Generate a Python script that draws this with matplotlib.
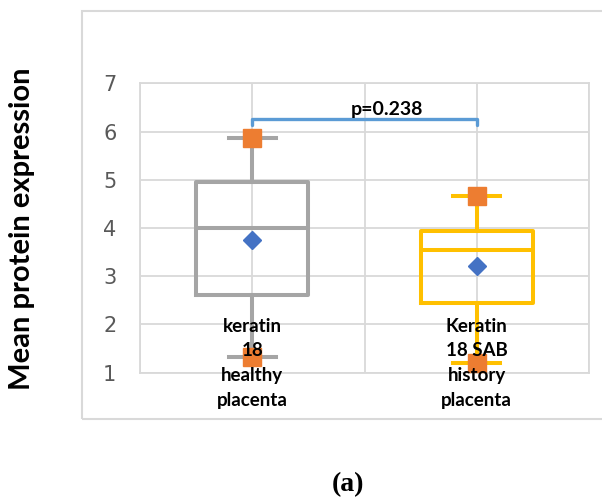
import matplotlib
matplotlib.use("Agg")
import matplotlib.pyplot as plt
from matplotlib.patches import Rectangle

# summary values for each group
groups = ["keratin\n18\nhealthy\nplacenta", "Keratin\n18 SAB\nhistory\nplacenta"]
positions = [1, 3]
maxima = [5.86, 4.66]
q3 = [4.96, 3.94]
medians = [4.0, 3.54]
means = [3.76, 3.21]
q1 = [2.61, 2.45]
minima = [1.33, 1.21]
box_colors = ["#A5A5A5", "#FFC000"]
p_value = "p=0.238"

fig = plt.figure(figsize=(6.02, 4.99), dpi=100)

# outer chart frame
fig.patches.append(Rectangle((82 / 602, 1 - 419 / 499), 1.0, (419 - 11) / 499,
                             transform=fig.transFigure, fill=False,
                             edgecolor="#D9D9D9", linewidth=1.5))

ax = fig.add_axes([140 / 602, 1 - 372.7 / 499, 449 / 602, 289.4 / 499])
ax.set_xlim(0, 4)
ax.set_ylim(1, 7)
ax.set_xticks([0, 1, 2, 3, 4])
ax.set_xticklabels([])
ax.set_yticks(range(1, 8))
ax.tick_params(axis="both", length=0, labelsize=15, labelcolor="#595959", pad=17)
ax.grid(True, color="#D9D9D9", linewidth=1.3)
ax.set_axisbelow(True)
for s in ax.spines.values():
    s.set_color("#D9D9D9")
    s.set_linewidth(1.3)

for i in range(len(positions)):
    stats = [dict(med=medians[i], q1=q1[i], q3=q3[i],
                  whislo=minima[i], whishi=maxima[i], fliers=[])]
    lp = dict(color=box_colors[i], linewidth=2.9)
    ax.bxp(stats, positions=[positions[i]], widths=1.0, capwidths=0.42,
           boxprops=lp, whiskerprops=lp, capprops=lp, medianprops=lp,
           showfliers=False, manage_ticks=False)

ax.plot(positions, maxima, "s", color="#ED7D31", markersize=12.5, zorder=5)
ax.plot(positions, minima, "s", color="#ED7D31", markersize=12.5, zorder=5)
ax.plot(positions, means, "D", color="#4472C4", markersize=9, zorder=5)

# significance bracket
ax.plot([1, 1, 3, 3], [6.13, 6.27, 6.27, 6.13], color="#5B9BD5",
        linewidth=2.4, solid_capstyle="round", solid_joinstyle="round", zorder=4)
ax.text(2.2, 6.28, p_value, ha="center", va="bottom", fontsize=14,
        fontweight="bold", family="Lato", zorder=6)

for x, label in zip(positions, groups):
    ax.text(x, 2.14, label, ha="center", va="top", fontsize=13.5,
            fontweight="bold", family="Lato", linespacing=1.55, zorder=6)

fig.text(22 / 602, 1 - 229 / 499, "Mean protein expression", rotation=90,
         ha="center", va="center", fontsize=21, fontweight="bold", family="Lato")
fig.text(348 / 602, 1 - 485 / 499, "(a)", ha="center", va="center",
         fontsize=20, fontweight="bold", family="Liberation Serif")

fig.savefig("out.png", dpi=100)
